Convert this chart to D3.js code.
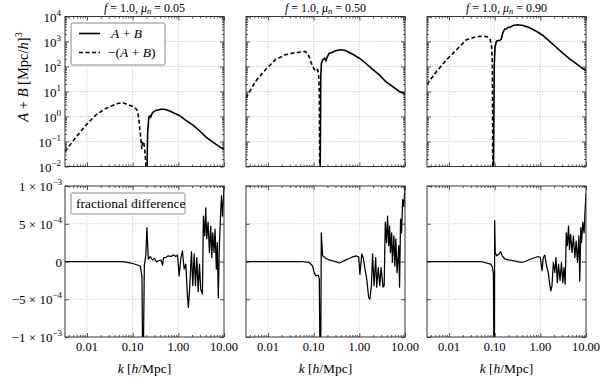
<!DOCTYPE html>
<html>
<head>
<meta charset="utf-8">
<script src="https://cdn.jsdelivr.net/npm/d3@7"></script>
<style>
  body { margin: 0; background: #fff; }
  svg { display: block; }
  text { font-family: "Liberation Serif", "Times New Roman", serif; fill: #000; }
</style>
</head>
<body>
<svg width="608" height="380"></svg>
<script>
// panel titles
const muValues = ["0.05", "0.50", "0.90"];

// A+B (positive part) and -(A+B) (negative part), [k, value in (Mpc/h)^3]
const plusAB05 = [[0.205,0.005],[0.213,0.23],[0.224,0.8],[0.23,1.0],[0.24,1.05],[0.248,0.95],[0.26,1.2],[0.275,1.45],[0.32,1.75],[0.42,1.95],[0.49,1.95],[0.63,1.7],[0.82,1.35],[1.05,1.1],[1.47,0.7],[2.1,0.45],[2.9,0.27],[4.05,0.15],[5.7,0.095],[7.9,0.062],[10,0.048]];
const minusAB05 = [[0.0033,0.04],[0.0059,0.16],[0.0097,0.47],[0.016,1.2],[0.026,2.1],[0.044,3.2],[0.06,3.6],[0.078,3.0],[0.1,2.5],[0.12,2.0],[0.13,1.5],[0.14,0.5],[0.152,0.12],[0.158,0.05],[0.165,0.09],[0.175,0.1],[0.185,0.04],[0.193,0.015],[0.198,0.005]];

const plusAB50 = [[0.139,0.005],[0.143,40],[0.148,135],[0.158,186],[0.175,214],[0.187,174],[0.2,250],[0.22,340],[0.254,363],[0.3,427],[0.387,468],[0.5,437],[0.7,316],[1.0,214],[1.38,135],[1.93,78],[2.7,47],[3.8,25],[5.3,16],[7.5,10],[10,8]];
const minusAB50 = [[0.0033,5.5],[0.0053,25],[0.0088,74],[0.0145,186],[0.024,295],[0.04,360],[0.066,400],[0.078,270],[0.089,135],[0.1,85],[0.113,63],[0.122,74],[0.129,40],[0.133,10],[0.136,0.005]];

const plusAB90 = [[0.094,0.005],[0.098,126],[0.102,590],[0.109,1020],[0.118,1100],[0.129,1100],[0.14,1260],[0.152,2340],[0.166,3160],[0.18,3160],[0.196,3700],[0.22,3700],[0.25,4370],[0.32,4680],[0.42,4370],[0.58,3550],[0.82,2570],[1.14,1740],[1.6,1020],[2.23,590],[3.1,340],[4.4,204],[6.1,129],[8.6,81],[10,68]];
const minusAB90 = [[0.0033,19],[0.0053,63],[0.0088,186],[0.0146,470],[0.024,1170],[0.04,1580],[0.055,1600],[0.066,1580],[0.075,1400],[0.08,1200],[0.086,600],[0.089,100],[0.091,0.005]];

// fractional difference, [k, value in units of 1e-4]
const diff05 = [[0.0033,0],[0.01,0],[0.03,0],[0.05,-0.03],[0.066,-0.05],[0.092,-0.2],[0.118,-0.4],[0.147,-0.6],[0.16,-2],[0.165,-12],[0.172,-12],[0.18,-0.6],[0.195,1],[0.205,4.5],[0.22,0.3],[0.243,0.66],[0.273,0.2],[0.297,0.4],[0.334,-0.05],[0.369,0.1],[0.416,0.2],[0.451,-0.5],[0.474,0.5],[0.533,0.53],[0.6,0.75],[0.687,0.66],[0.786,0.88],[0.88,0.66],[0.96,0.84],[1.04,-1.9],[1.14,0.5],[1.23,1.4],[1.34,-1.0],[1.46,-0.35],[1.58,-4.5],[1.66,-6.1],[1.78,-3.2],[1.94,1.3],[2.07,-3.2],[2.22,1.0],[2.37,-3.2],[2.54,0.5],[2.72,-4.0],[2.9,-0.35],[3.1,-3.7],[3.37,-4.3],[3.54,6.0],[3.79,3.4],[3.98,7.1],[4.19,3.0],[4.48,5.2],[4.8,1.2],[5.13,4.7],[5.4,0.5],[5.67,3.8],[6.06,1.2],[6.37,4.3],[6.8,-1.0],[7.13,2.5],[7.5,-4.8],[7.9,2.0],[8.4,6.0],[8.8,8.7],[9.3,6],[10,10]];
const diff50 = [[0.0033,0],[0.01,0],[0.03,0],[0.05,0],[0.08,-0.13],[0.095,-0.6],[0.103,-1.5],[0.112,-1.9],[0.126,-1.8],[0.133,-2.3],[0.137,-12],[0.143,-12],[0.147,3.8],[0.157,0.75],[0.186,0.4],[0.22,0.22],[0.26,0.1],[0.31,-0.05],[0.365,-0.2],[0.43,0],[0.51,0.22],[0.6,0.4],[0.71,0.6],[0.85,0.75],[0.97,0.6],[1.03,-1.7],[1.13,1.0],[1.22,0.5],[1.33,-1.0],[1.45,-2.3],[1.6,-4.75],[1.7,-5.0],[1.84,-3.2],[1.95,1.0],[2.1,-3.2],[2.28,0.5],[2.4,-3.4],[2.6,-0.8],[2.8,-3.2],[3.0,-0.8],[3.3,-3.4],[3.5,-3.2],[3.7,5.2],[3.95,2.5],[4.15,6.0],[4.4,2.1],[4.6,4.7],[4.8,1.2],[5.1,3.8],[5.3,-0.1],[5.7,3.4],[6.0,-0.6],[6.3,3.0],[6.7,-1.5],[7.3,2.1],[7.6,-3.4],[8.0,5.6],[8.4,3.8],[8.9,8.2],[9.4,7.3],[10,10]];
const diff90 = [[0.0033,0],[0.01,0],[0.03,0],[0.05,0],[0.082,-0.35],[0.09,-0.8],[0.094,-1.7],[0.096,-12],[0.099,-12],[0.1,5.4],[0.103,1.2],[0.11,0.75],[0.124,0.97],[0.135,1.3],[0.146,0.75],[0.17,0.3],[0.2,0.22],[0.26,0.1],[0.335,-0.05],[0.395,-0.13],[0.466,0],[0.6,0.3],[0.77,0.53],[0.9,0.66],[1.0,0.53],[1.09,-1.2],[1.16,0.53],[1.25,0.84],[1.37,-0.6],[1.49,-1.45],[1.62,-3.2],[1.7,-3.9],[1.8,-3.2],[1.93,-0.13],[2.07,-1.45],[2.2,0.53],[2.36,-2.8],[2.5,-0.35],[2.7,-2.5],[2.9,-0.13],[3.1,-2.8],[3.3,-0.8],[3.5,-3.0],[3.7,3.8],[3.9,2.1],[4.15,4.7],[4.35,1.6],[4.6,3.6],[4.95,1.2],[5.3,3.4],[5.7,0.53],[6.1,2.7],[6.5,-0.13],[7.0,3.4],[7.3,-2.6],[7.7,4.5],[8.0,2.5],[8.5,5.2],[9.1,3.8],[9.5,6.5],[10,9]];

const plusAB = [plusAB05, plusAB50, plusAB90];
const minusAB = [minusAB05, minusAB50, minusAB90];
const diffs = [diff05, diff50, diff90];

// ticks
const kTicks = [0.01, 0.1, 1, 10];
const kTickText = ["0.01", "0.10", "1.00", "10.00"];
const abTicks = [1e-2, 1e-1, 1e0, 1e1, 1e2, 1e3, 1e4];
const abTickExp = ["\u22122", "\u22121", "0", "1", "2", "3", "4"];
const diffTicks = [-10, -5, 0, 5, 10];
const diffTickText = [["\u22121 \u00d7 10", "\u22123"], ["\u22125 \u00d7 10", "\u22124"], ["0", ""], ["5 \u00d7 10", "\u22124"], ["1 \u00d7 10", "\u22123"]];

const svg = d3.select("svg");
const panelX = [65, 246, 427];
const pw = 159;
const topT = 16.5, topB = 166.5;
const botT = 186, botB = 337;
const kDomain = [0.0033, 10];

function minorLog(lo, hi) {
  const out = [];
  for (let e = Math.floor(Math.log10(lo)); e < Math.ceil(Math.log10(hi)); e++) {
    for (let m = 2; m <= 9; m++) {
      const v = m * Math.pow(10, e);
      if (v > lo && v < hi) out.push(v);
    }
  }
  return out;
}

function tickAxis(g, axis, size, tr) {
  const a = g.append("g")
    .attr("transform", tr)
    .call(axis.tickSize(-size).tickFormat(""));
  a.select(".domain").remove();
  a.selectAll(".tick line").attr("stroke", "#222").attr("stroke-width", 0.8);
  return a;
}

function grid(g, x0, x1, y0, y1) {
  g.append("line")
    .attr("x1", x0).attr("x2", x1).attr("y1", y0).attr("y2", y1)
    .attr("stroke", "#aaa").attr("stroke-width", 0.7)
    .attr("stroke-dasharray", "1,1.5");
}

const kMinor = minorLog(kDomain[0], kDomain[1]);
const abMinor = minorLog(1e-2, 1e4);

panelX.forEach((px, i) => {
  const g = svg.append("g");
  const x = d3.scaleLog().domain(kDomain).range([px, px + pw]);
  const yTop = d3.scaleLog().domain([1e-2, 1e4]).range([topB, topT]);
  const yBot = d3.scaleLinear().domain([-10, 10]).range([botB, botT]);

  // grid lines
  kTicks.slice(0, 3).forEach(k => {
    grid(g, x(k), x(k), topT, topB);
    grid(g, x(k), x(k), botT, botB);
  });
  abTicks.slice(1, 6).forEach(v => grid(g, px, px + pw, yTop(v), yTop(v)));
  diffTicks.slice(1, 4).forEach(v => grid(g, px, px + pw, yBot(v), yBot(v)));

  // clip paths
  svg.append("clipPath").attr("id", "ct" + i)
    .append("rect").attr("x", px).attr("y", topT).attr("width", pw).attr("height", topB - topT);
  svg.append("clipPath").attr("id", "cb" + i)
    .append("rect").attr("x", px).attr("y", botT).attr("width", pw).attr("height", botB - botT);

  const lineTop = d3.line().x(d => x(d[0])).y(d => yTop(d[1]));
  const lineBot = d3.line().x(d => x(d[0])).y(d => yBot(d[1]));

  g.append("path").datum(minusAB[i])
    .attr("clip-path", "url(#ct" + i + ")")
    .attr("d", lineTop).attr("fill", "none")
    .attr("stroke", "#000").attr("stroke-width", 1.6)
    .attr("stroke-dasharray", "4,2.5");
  g.append("path").datum(plusAB[i])
    .attr("clip-path", "url(#ct" + i + ")")
    .attr("d", lineTop).attr("fill", "none")
    .attr("stroke", "#000").attr("stroke-width", 1.6);
  g.append("path").datum(diffs[i])
    .attr("clip-path", "url(#cb" + i + ")")
    .attr("d", lineBot).attr("fill", "none")
    .attr("stroke", "#000").attr("stroke-width", 1.25)
    .attr("stroke-linejoin", "round");

  // ticks on all sides, pointing in
  [[topT, topB], [botT, botB]].forEach(([t, b]) => {
    tickAxis(g, d3.axisBottom(x).tickValues(kTicks), 4, `translate(0,${b})`);
    tickAxis(g, d3.axisBottom(x).tickValues(kMinor), 2, `translate(0,${b})`);
    tickAxis(g, d3.axisTop(x).tickValues(kTicks), 4, `translate(0,${t})`);
    tickAxis(g, d3.axisTop(x).tickValues(kMinor), 2, `translate(0,${t})`);
  });
  tickAxis(g, d3.axisLeft(yTop).tickValues(abTicks), 4, `translate(${px},0)`);
  tickAxis(g, d3.axisLeft(yTop).tickValues(abMinor), 2, `translate(${px},0)`);
  tickAxis(g, d3.axisRight(yTop).tickValues(abTicks), 4, `translate(${px + pw},0)`);
  tickAxis(g, d3.axisRight(yTop).tickValues(abMinor), 2, `translate(${px + pw},0)`);
  tickAxis(g, d3.axisLeft(yBot).tickValues(diffTicks), 4, `translate(${px},0)`);
  tickAxis(g, d3.axisRight(yBot).tickValues(diffTicks), 4, `translate(${px + pw},0)`);

  // frames
  [[topT, topB], [botT, botB]].forEach(([t, b]) => {
    g.append("rect").attr("x", px).attr("y", t).attr("width", pw).attr("height", b - t)
      .attr("fill", "none").attr("stroke", "#333").attr("stroke-width", 1);
  });

  // x tick labels
  kTicks.forEach((k, j) => {
    g.append("text").attr("x", x(k)).attr("y", botB + 14)
      .attr("text-anchor", "middle").style("font-size", "12.5px")
      .text(kTickText[j]);
  });

  // x label
  const xl = g.append("text").attr("x", px + pw / 2).attr("y", 373)
    .attr("text-anchor", "middle").style("font-size", "13.5px");
  xl.append("tspan").attr("font-style", "italic").text("k");
  xl.append("tspan").text(" [");
  xl.append("tspan").attr("font-style", "italic").text("h");
  xl.append("tspan").text("/Mpc]");

  // title
  const tt = g.append("text").attr("x", px + pw / 2).attr("y", 12)
    .attr("text-anchor", "middle").style("font-size", "12px");
  tt.append("tspan").attr("font-style", "italic").text("f");
  tt.append("tspan").text(" = 1.0, ");
  tt.append("tspan").attr("font-style", "italic").text("\u03bc");
  tt.append("tspan").attr("font-style", "italic").attr("dy", 2).style("font-size", "8.5px").text("n");
  tt.append("tspan").attr("dy", -2).text(" = " + muValues[i]);

  if (i === 0) {
    // y tick labels, top
    abTicks.forEach((v, j) => {
      const t = g.append("text").attr("x", px - 4).attr("y", yTop(v) + 5)
        .attr("text-anchor", "end").style("font-size", "13px");
      t.append("tspan").text("10");
      t.append("tspan").attr("dy", -6).style("font-size", "9px").text(abTickExp[j]);
    });
    // y tick labels, bottom
    diffTicks.forEach((v, j) => {
      const t = g.append("text").attr("x", px - 3).attr("y", yBot(v) + 5)
        .attr("text-anchor", "end").style("font-size", "13px");
      t.append("tspan").text(diffTickText[j][0]);
      if (diffTickText[j][1]) t.append("tspan").attr("dy", -6).style("font-size", "9px").text(diffTickText[j][1]);
    });

    // y label
    const yl = g.append("text").attr("transform", "translate(28,77) rotate(-90)")
      .attr("text-anchor", "middle").style("font-size", "14.5px");
    yl.append("tspan").attr("font-style", "italic").text("A");
    yl.append("tspan").text(" + ");
    yl.append("tspan").attr("font-style", "italic").text("B");
    yl.append("tspan").text(" [Mpc/");
    yl.append("tspan").attr("font-style", "italic").text("h");
    yl.append("tspan").text("]");
    yl.append("tspan").attr("dy", -6).style("font-size", "10px").text("3");

    // legend
    const lg = g.append("g");
    lg.append("rect").attr("x", 71).attr("y", 23).attr("width", 94).attr("height", 42)
      .attr("rx", 1.5).attr("fill", "#fff").attr("stroke", "#888").attr("stroke-width", 1);
    lg.append("line").attr("x1", 79).attr("x2", 100).attr("y1", 33.5).attr("y2", 33.5)
      .attr("stroke", "#000").attr("stroke-width", 1.6);
    lg.append("line").attr("x1", 79).attr("x2", 100).attr("y1", 52.5).attr("y2", 52.5)
      .attr("stroke", "#000").attr("stroke-width", 1.6).attr("stroke-dasharray", "4,2.5");
    const l1 = lg.append("text").attr("x", 111).attr("y", 38).style("font-size", "13.5px");
    l1.append("tspan").attr("font-style", "italic").text("A");
    l1.append("tspan").text(" + ");
    l1.append("tspan").attr("font-style", "italic").text("B");
    const l2 = lg.append("text").attr("x", 108).attr("y", 57).style("font-size", "13.5px");
    l2.append("tspan").text("\u2212(");
    l2.append("tspan").attr("font-style", "italic").text("A");
    l2.append("tspan").text(" + ");
    l2.append("tspan").attr("font-style", "italic").text("B");
    l2.append("tspan").text(")");

    // fractional difference box
    g.append("rect").attr("x", 71).attr("y", 193).attr("width", 114).attr("height", 21)
      .attr("rx", 1.5).attr("fill", "#fff").attr("stroke", "#888").attr("stroke-width", 1);
    g.append("text").attr("x", 76).attr("y", 208).style("font-size", "13.5px")
      .text("fractional difference");
  }
});
</script>
</body>
</html>
